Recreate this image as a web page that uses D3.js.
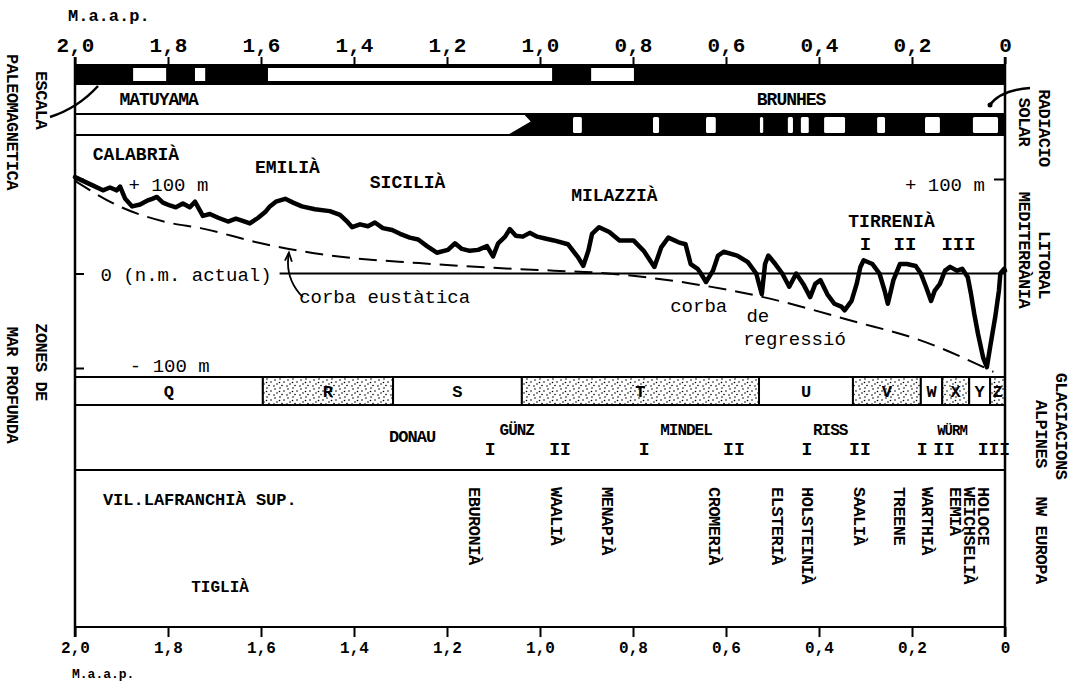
<!DOCTYPE html>
<html>
<head>
<meta charset="utf-8">
<script src="https://cdn.jsdelivr.net/npm/d3@7"></script>
<style>
  body { margin: 0; background: #fff; }
  text { font-family: "Liberation Mono", "DejaVu Sans Mono", monospace; fill: #000; }
  .b { font-weight: bold; }
</style>
</head>
<body>
<svg id="chart" width="1083" height="684"></svg>
<script>
// ages in Ma before present, levels in metres
var ageTicks = [ 2.0, 1.8, 1.6, 1.4, 1.2, 1.0, 0.8, 0.6, 0.4, 0.2, 0 ];

// paleomagnetic scale: white (reversed) windows in the black band
var magWindows = [ [ 1.875, 1.804 ], [ 1.742, 1.720 ], [ 1.585, 0.974 ], [ 0.890, 0.798 ] ];
var magEpochs = [ 'MATUYAMA', 'BRUNHES' ];
var magEpochAges = [ 1.82, 0.46 ];

// solar radiation: black from ~1.03 Ma with white windows
var solarEdge = [ 1.035, 1.02, 1.07 ];   // top, tip, bottom of the transition
var solarWindows = [
  [ 0.929, 0.910 ], [ 0.757, 0.744 ], [ 0.643, 0.622 ], [ 0.527, 0.520 ], [ 0.467, 0.456 ],
  [ 0.439, 0.422 ], [ 0.389, 0.344 ], [ 0.275, 0.258 ], [ 0.172, 0.140 ], [ 0.069, 0.015 ]
];

// Mediterranean sea level (thick curve)
var seaLevel = [
  [2.000,102],[1.983,98],[1.961,93],[1.940,88],[1.925,91],[1.910,88],[1.903,92],[1.892,79],
  [1.877,71],[1.860,73],[1.845,77],[1.834,79],[1.824,81],[1.811,75],[1.796,72],[1.783,70],
  [1.768,74],[1.753,70],[1.742,76],[1.725,61],[1.710,63],[1.692,59],[1.671,55],[1.654,58],
  [1.641,56],[1.624,53],[1.606,59],[1.591,65],[1.581,71],[1.568,76],[1.548,79],[1.531,75],
  [1.512,71],[1.484,68],[1.452,66],[1.430,62],[1.413,54],[1.404,49],[1.387,52],[1.370,50],
  [1.355,54],[1.338,48],[1.318,46],[1.301,42],[1.280,38],[1.262,36],[1.243,29],[1.222,22],
  [1.198,25],[1.183,32],[1.168,26],[1.151,24],[1.133,25],[1.114,29],[1.101,18],[1.090,32],
  [1.075,39],[1.065,47],[1.052,40],[1.037,39],[1.022,43],[1.006,39],[0.989,37],[0.970,35],
  [0.940,31],[0.918,17],[0.907,8],[0.896,24],[0.888,42],[0.873,49],[0.851,44],[0.829,35],
  [0.799,35],[0.777,24],[0.754,7],[0.739,28],[0.724,38],[0.702,33],[0.687,31],[0.676,10],
  [0.661,5],[0.654,0],[0.643,-9],[0.628,3],[0.617,19],[0.605,23],[0.576,19],[0.553,12],
  [0.535,0],[0.523,-22],[0.516,10],[0.509,19],[0.494,10],[0.479,0],[0.464,-14],[0.449,0],
  [0.434,-11],[0.419,-25],[0.408,-11],[0.397,-7],[0.382,-22],[0.367,-32],[0.352,-35],[0.345,-39],
  [0.330,-29],[0.319,-11],[0.311,7],[0.304,14],[0.285,10],[0.270,0],[0.259,-18],[0.252,-32],
  [0.240,-7],[0.226,10],[0.211,10],[0.192,8],[0.181,0],[0.170,-14],[0.159,-29],[0.151,-18],
  [0.140,-11],[0.129,3],[0.118,7],[0.103,3],[0.092,5],[0.080,-4],[0.073,-22],[0.066,-43],
  [0.058,-64],[0.047,-89],[0.039,-99],[0.032,-78],[0.021,-46],[0.013,-18],[0.010,0],[0.002,5],[0,3]
];

// eustatic curve + regression curve (dashed)
var eustatic = [
  [2.0,98],[1.9,70],[1.8,54],[1.73,48],[1.6,32],[1.45,19],[1.26,11],[1.1,6],[0.97,3],
  [0.88,1],[0.67,-11],[0.52,-25],[0.33,-50],[0.18,-71],[0.025,-104]
];

var stageNames = [ 'CALABRIÀ', 'EMILIÀ', 'SICILIÀ', 'MILAZZIÀ', 'TIRRENIÀ' ];
var stageAges = [ 1.962, 1.613, 1.366, 0.933, 0.337 ];
var stageLevels = [ 120, 106, 91, 77, 49 ];
var tirrNums = [ 'I', 'II', 'III' ];
var tirrAges = [ 0.30, 0.215, 0.10 ];

// deep sea zones
var zoneNames = [ 'Q', 'R', 'S', 'T', 'U', 'V', 'W', 'X', 'Y', 'Z' ];
var zoneBounds = [ 2.0, 1.596, 1.316, 1.039, 0.529, 0.327, 0.181, 0.135, 0.077, 0.032, 0 ];

// alpine glaciations
var glacNames = [ 'DONAU', 'GÜNZ', 'MINDEL', 'RISS', 'WÜRM' ];
var glacAges = [ 1.275, 1.05, 0.686, 0.376, 0.114 ];
var glacNums = [ 'I', 'II', 'I', 'II', 'I', 'II', 'I', 'II', 'III' ];
var glacNumAges = [ 1.107, 0.957, 0.776, 0.583, 0.426, 0.312, 0.178, 0.131, 0.024 ];

// NW Europe stages (vertical labels)
var nweNames = [ 'EBURONIÀ', 'WAALIÀ', 'MENAPIÀ', 'CROMERIÀ', 'ELSTERIÀ', 'HOLSTEINIÀ',
                 'SAALIÀ', 'TREENE', 'WARTHIÀ', 'EEMIÀ', 'WEICHSELIÀ', 'HOLOCE' ];
var nweAges = [ 1.14, 0.963, 0.854, 0.624, 0.488, 0.424, 0.312, 0.226, 0.166, 0.105, 0.075, 0.045 ];

var svg = d3.select( '#chart' ),
    L = 75, R = 1005,
    yTop = 64, yMag1 = 84, yMag2 = 114, yMag3 = 135,
    ySea = 377, yZone = 405, yGlac = 470, yBot = 627;

var x = d3.scaleLinear().domain( [ 2, 0 ] ).range( [ L, R ] ),
    y = d3.scaleLinear().domain( [ -100, 100 ] ).range( [ 368, 179 ] );

function ageFmt( d ) {
  return d === 0 ? '0' : d3.format( '.1f' )( d ).replace( '.', ',' );
}

// stipple pattern for the dotted zones
var pat = svg.append( 'defs' ).append( 'pattern' )
  .attr( 'id', 'stip' ).attr( 'patternUnits', 'userSpaceOnUse' )
  .attr( 'width', 13 ).attr( 'height', 9 );
pat.append( 'rect' ).attr( 'width', 13 ).attr( 'height', 9 ).attr( 'fill', '#fff' );
[ [ 2, 2 ], [ 7, 1 ], [ 11, 4 ], [ 4, 6 ], [ 9, 7.5 ], [ 1, 8 ], [ 6.5, 4.5 ] ].forEach( function( p ) {
  pat.append( 'circle' ).attr( 'cx', p[ 0 ] ).attr( 'cy', p[ 1 ] ).attr( 'r', 0.8 ).attr( 'fill', '#000' );
} );

// ---- top axis
var topAxis = svg.append( 'g' ).attr( 'transform', 'translate(0,' + yTop + ')' )
  .call( d3.axisTop( x ).tickValues( ageTicks ).tickFormat( ageFmt ).tickSize( 7 ).tickPadding( 5 ) );
topAxis.select( '.domain' ).remove();
topAxis.selectAll( 'line' ).attr( 'stroke-width', 2 );
topAxis.selectAll( 'text' ).attr( 'class', 'b' ).style( 'font-size', '21px' )
  .style( 'font-family', '"Liberation Mono", monospace' );
svg.append( 'text' ).attr( 'class', 'b' ).attr( 'x', 68 ).attr( 'y', 21 )
  .style( 'font-size', '17px' ).text( 'M.a.a.p.' );

// ---- paleomagnetic band
svg.append( 'rect' ).attr( 'x', L ).attr( 'y', yTop ).attr( 'width', R - L ).attr( 'height', yMag1 - yTop )
  .attr( 'fill', '#000' );
svg.selectAll( '.magwin' ).data( magWindows ).enter().append( 'rect' )
  .attr( 'class', 'magwin' )
  .attr( 'x', function( d ) { return x( d[ 0 ] ); } )
  .attr( 'width', function( d ) { return x( d[ 1 ] ) - x( d[ 0 ] ); } )
  .attr( 'y', yTop + 4 ).attr( 'height', 13 ).attr( 'fill', '#fff' );
svg.selectAll( '.epoch' ).data( magEpochs ).enter().append( 'text' )
  .attr( 'class', 'b' ).attr( 'text-anchor', 'middle' )
  .attr( 'x', function( d, i ) { return x( magEpochAges[ i ] ); } )
  .attr( 'y', 105 ).style( 'font-size', '18px' ).style( 'letter-spacing', '-1px' )
  .text( function( d ) { return d; } );

// ---- solar radiation band
var mid = ( yMag2 + yMag3 ) / 2 - 3;
svg.append( 'polygon' )
  .attr( 'points', [ [ x( solarEdge[ 0 ] ), yMag2 ], [ x( 0 ), yMag2 ], [ x( 0 ), yMag3 ],
                     [ x( solarEdge[ 2 ] ), yMag3 ], [ x( solarEdge[ 1 ] ), mid ] ].join( ' ' ) )
  .attr( 'fill', '#000' );
svg.selectAll( '.solwin' ).data( solarWindows ).enter().append( 'rect' )
  .attr( 'class', 'solwin' )
  .attr( 'x', function( d ) { return x( d[ 0 ] ); } )
  .attr( 'width', function( d ) { return x( d[ 1 ] ) - x( d[ 0 ] ); } )
  .attr( 'y', yMag2 + 3 ).attr( 'height', yMag3 - yMag2 - 5 ).attr( 'rx', 1.5 ).attr( 'fill', '#fff' );

// ---- horizontal frame lines
[ yMag1, yMag2, yMag3, ySea, yZone, yGlac, yBot ].forEach( function( yy ) {
  svg.append( 'line' ).attr( 'x1', L ).attr( 'x2', R ).attr( 'y1', yy ).attr( 'y2', yy )
    .attr( 'stroke', '#000' ).attr( 'stroke-width', 2 );
} );

// ---- deep sea zones
svg.selectAll( '.zone' ).data( zoneNames ).enter().append( 'rect' )
  .attr( 'class', 'zone' )
  .attr( 'x', function( d, i ) { return x( zoneBounds[ i ] ); } )
  .attr( 'width', function( d, i ) { return x( zoneBounds[ i + 1 ] ) - x( zoneBounds[ i ] ); } )
  .attr( 'y', ySea ).attr( 'height', yZone - ySea )
  .attr( 'fill', function( d, i ) { return i % 2 ? 'url(#stip)' : '#fff'; } )
  .attr( 'stroke', '#000' ).attr( 'stroke-width', 2 );
svg.selectAll( '.zlab' ).data( zoneNames ).enter().append( 'text' )
  .attr( 'class', 'b' ).attr( 'text-anchor', 'middle' )
  .attr( 'x', function( d, i ) { return ( x( zoneBounds[ i ] ) + x( zoneBounds[ i + 1 ] ) ) / 2; } )
  .attr( 'y', 397 ).style( 'font-size', '17px' )
  .text( function( d ) { return d; } );

// ---- sea level panel
var lvAxisL = svg.append( 'g' ).attr( 'transform', 'translate(' + L + ',0)' )
  .call( d3.axisRight( y ).tickValues( [ 100, 0, -100 ] ).tickSize( 9 ).tickFormat( '' ) );
lvAxisL.select( '.domain' ).remove();
lvAxisL.selectAll( 'line' ).attr( 'stroke-width', 2 );
var lvAxisR = svg.append( 'g' ).attr( 'transform', 'translate(' + R + ',0)' )
  .call( d3.axisLeft( y ).tickValues( [ 100 ] ).tickSize( 11 ).tickFormat( '' ) );
lvAxisR.select( '.domain' ).remove();
lvAxisR.selectAll( 'line' ).attr( 'stroke-width', 2 );

// present sea level line
svg.append( 'line' ).attr( 'x1', x( 1.56 ) ).attr( 'x2', x( 0 ) ).attr( 'y1', y( 0 ) ).attr( 'y2', y( 0 ) )
  .attr( 'stroke', '#000' ).attr( 'stroke-width', 2 );

var line = d3.line()
  .x( function( d ) { return x( d[ 0 ] ); } )
  .y( function( d ) { return y( d[ 1 ] ); } );

svg.append( 'path' ).datum( eustatic )
  .attr( 'd', line.curve( d3.curveMonotoneX ) )
  .attr( 'fill', 'none' ).attr( 'stroke', '#000' ).attr( 'stroke-width', 2 )
  .attr( 'stroke-dasharray', '18,9' );

svg.append( 'path' ).datum( seaLevel )
  .attr( 'd', line.curve( d3.curveLinear ) )
  .attr( 'fill', 'none' ).attr( 'stroke', '#000' ).attr( 'stroke-width', 4.5 )
  .attr( 'stroke-linejoin', 'round' ).attr( 'stroke-linecap', 'round' );

svg.selectAll( '.stage' ).data( stageNames ).enter().append( 'text' )
  .attr( 'class', 'b' )
  .attr( 'x', function( d, i ) { return x( stageAges[ i ] ); } )
  .attr( 'y', function( d, i ) { return y( stageLevels[ i ] ); } )
  .style( 'font-size', '18px' )
  .text( function( d ) { return d; } );
svg.selectAll( '.tnum' ).data( tirrNums ).enter().append( 'text' )
  .attr( 'class', 'b' ).attr( 'text-anchor', 'middle' )
  .attr( 'x', function( d, i ) { return x( tirrAges[ i ] ); } )
  .attr( 'y', y( 25 ) ).style( 'font-size', '19px' )
  .text( function( d ) { return d; } );

var lvText = [
  { t: '+ 100 m', a: 1.885, m: 87 },
  { t: '+ 100 m', a: 0.215, m: 87 },
  { t: '0 (n.m. actual)', a: 1.945, m: -8 },
  { t: '- 100 m', a: 1.882, m: -104 },
  { t: 'corba eustàtica', a: 1.518, m: -31 },
  { t: 'corba', a: 0.72, m: -41 },
  { t: 'de', a: 0.556, m: -51 },
  { t: 'regressió', a: 0.563, m: -76 }
];
svg.selectAll( '.lv' ).data( lvText ).enter().append( 'text' )
  .attr( 'x', function( d ) { return x( d.a ); } )
  .attr( 'y', function( d ) { return y( d.m ); } )
  .style( 'font-size', '19px' )
  .text( function( d ) { return d.t; } );

// arrow pointing to the eustatic curve
svg.append( 'path' )
  .attr( 'd', 'M' + x( 1.51 ) + ',' + y( -25 ) + ' Q' + x( 1.55 ) + ',' + y( -5 ) + ' ' + x( 1.54 ) + ',' + y( 22 ) )
  .attr( 'fill', 'none' ).attr( 'stroke', '#000' ).attr( 'stroke-width', 1.8 );
svg.append( 'path' )
  .attr( 'd', 'M' + ( x( 1.54 ) - 4 ) + ',' + ( y( 22 ) + 8 ) + ' L' + x( 1.54 ) + ',' + y( 22 ) +
              ' L' + ( x( 1.54 ) + 3 ) + ',' + ( y( 22 ) + 9 ) )
  .attr( 'fill', 'none' ).attr( 'stroke', '#000' ).attr( 'stroke-width', 1.8 );

// ---- glaciations
svg.selectAll( '.glac' ).data( glacNames ).enter().append( 'text' )
  .attr( 'class', 'b' ).attr( 'text-anchor', 'middle' )
  .attr( 'x', function( d, i ) { return x( glacAges[ i ] ); } )
  .attr( 'y', function( d, i ) { return i === 0 ? 442 : 435; } )
  .style( 'font-size', function( d, i ) { return i === 0 ? '17px' : ( i === 4 ? '14px' : '16px' ); } )
  .style( 'letter-spacing', '-1px' )
  .text( function( d ) { return d; } );
svg.selectAll( '.gnum' ).data( glacNums ).enter().append( 'text' )
  .attr( 'class', 'b' ).attr( 'text-anchor', 'middle' )
  .attr( 'x', function( d, i ) { return x( glacNumAges[ i ] ); } )
  .attr( 'y', 455 ).style( 'font-size', '18px' )
  .text( function( d ) { return d; } );

// ---- NW Europe
svg.append( 'text' ).attr( 'class', 'b' ).attr( 'x', x( 1.94 ) ).attr( 'y', 505 )
  .style( 'font-size', '17px' ).text( 'VIL.LAFRANCHIÀ SUP.' );
svg.append( 'text' ).attr( 'class', 'b' ).attr( 'x', x( 1.75 ) ).attr( 'y', 592 )
  .style( 'font-size', '16px' ).text( 'TIGLIÀ' );
svg.selectAll( '.nwe' ).data( nweNames ).enter().append( 'text' )
  .attr( 'class', 'b' )
  .attr( 'transform', function( d, i ) { return 'translate(' + x( nweAges[ i ] ) + ',487) rotate(90)'; } )
  .attr( 'dy', '0.35em' ).style( 'font-size', '17px' ).style( 'letter-spacing', '-0.5px' )
  .text( function( d ) { return d; } );

// ---- bottom axis
var botAxis = svg.append( 'g' ).attr( 'transform', 'translate(0,' + yBot + ')' )
  .call( d3.axisBottom( x ).tickValues( ageTicks ).tickFormat( ageFmt ).tickSize( 10 ).tickPadding( 5 ) );
botAxis.select( '.domain' ).remove();
botAxis.selectAll( 'line' ).attr( 'stroke-width', 2 );
botAxis.selectAll( 'text' ).attr( 'class', 'b' ).style( 'font-size', '16px' )
  .style( 'font-family', '"Liberation Mono", monospace' );
svg.append( 'text' ).attr( 'class', 'b' ).attr( 'x', 72 ).attr( 'y', 678 )
  .style( 'font-size', '13px' ).text( 'M.a.a.p.' );

// ---- vertical frame lines
[ L, R ].forEach( function( xx ) {
  svg.append( 'line' ).attr( 'x1', xx ).attr( 'x2', xx ).attr( 'y1', yTop - 7 ).attr( 'y2', yBot + 10 )
    .attr( 'stroke', '#000' ).attr( 'stroke-width', 2.5 );
} );

// ---- side titles (rotated)
var sideText = [
  { t: 'ESCALA', cx: 42, cy: 100 },
  { t: 'PALEOMAGNETICA', cx: 13, cy: 122 },
  { t: 'ZONES DE', cx: 42, cy: 362 },
  { t: 'MAR PROFUNDA', cx: 13, cy: 385 },
  { t: 'RADIACIO', cx: 1045, cy: 128 },
  { t: 'SOLAR', cx: 1025, cy: 122 },
  { t: 'LITORAL', cx: 1045, cy: 265 },
  { t: 'MEDITERRÀNIA', cx: 1025, cy: 250 },
  { t: 'GLACIACIONS', cx: 1062, cy: 426 },
  { t: 'ALPINES', cx: 1042, cy: 434 },
  { t: 'NW EUROPA', cx: 1042, cy: 540 }
];
svg.selectAll( '.side' ).data( sideText ).enter().append( 'text' )
  .attr( 'class', 'b' ).attr( 'text-anchor', 'middle' )
  .attr( 'transform', function( d ) { return 'translate(' + d.cx + ',' + d.cy + ') rotate(90)'; } )
  .attr( 'dy', '0.35em' ).style( 'font-size', '17px' ).style( 'letter-spacing', '-0.5px' )
  .text( function( d ) { return d.t; } );

// small pointer arrows from the side titles
svg.append( 'path' ).attr( 'd', 'M50,117 Q78,108 98,86' )
  .attr( 'fill', 'none' ).attr( 'stroke', '#000' ).attr( 'stroke-width', 2.5 );
svg.append( 'path' ).attr( 'd', 'M1030,88 Q1000,90 989,106' )
  .attr( 'fill', 'none' ).attr( 'stroke', '#000' ).attr( 'stroke-width', 2.5 );
svg.append( 'circle' ).attr( 'cx', 990 ).attr( 'cy', 105 ).attr( 'r', 2.5 ).attr( 'fill', '#000' );
</script>
</body>
</html>
